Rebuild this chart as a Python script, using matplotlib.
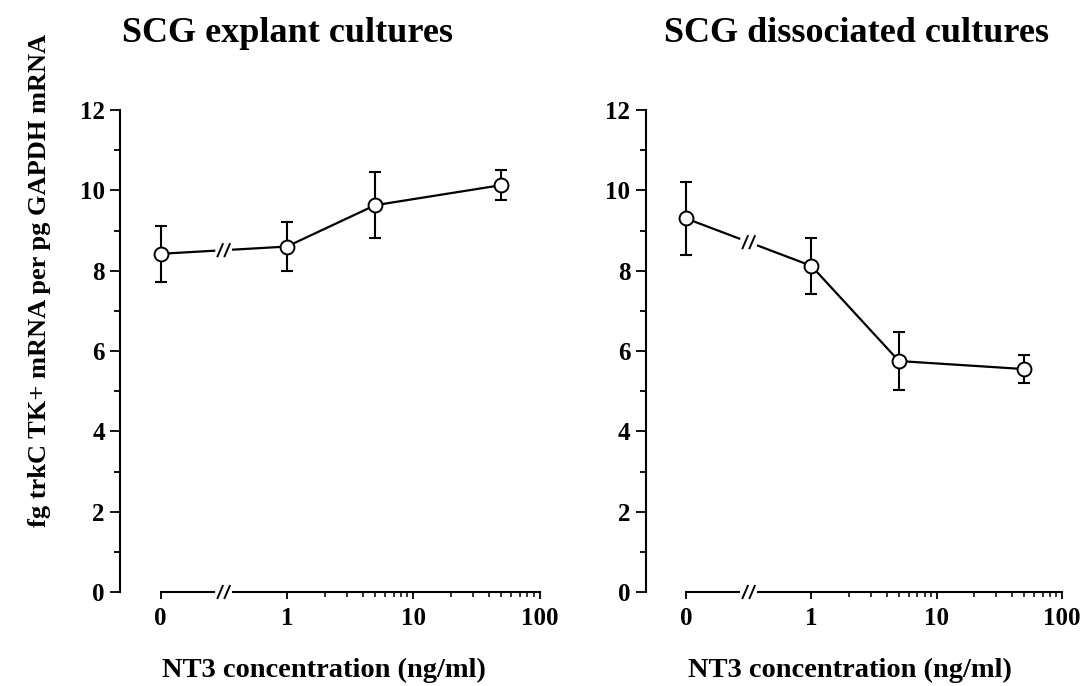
import numpy as np
import matplotlib
matplotlib.use('Agg')
import matplotlib.pyplot as plt
from matplotlib.ticker import FixedLocator, NullFormatter

plt.rcParams['font.family'] = 'Liberation Serif'
plt.rcParams['font.weight'] = 'bold'

# NT3 concentration (ng/ml); 0 is drawn one decade below 1 on the log axis
conc = [0, 1, 5, 50]
explant_mean = [8.42, 8.60, 9.63, 10.13]
explant_err = [0.70, 0.60, 0.82, 0.38]
dissoc_mean = [9.30, 8.12, 5.75, 5.55]
dissoc_err = [0.90, 0.70, 0.72, 0.34]
titles = ['SCG explant cultures', 'SCG dissociated cultures']
xtick_vals = [0.1, 1, 10, 100]
xtick_labels = ['0', '1', '10', '100']

W, H = 1088, 686
fig = plt.figure(figsize=(W / 100, H / 100), dpi=100)

ZERO_POS = 0.1
BRK = -0.5      # log10 position of the break
GAP = 0.075     # half gap in decades


def xpos(c):
    return [ZERO_POS if v == 0 else v for v in c]


def slashes(ax, xc, yc):
    # two little slanted strokes at (xc, yc), sized in pixels
    cx, cy = ax.transData.transform((xc, yc))
    inv = ax.transData.inverted()
    for dx in (-3.5, 3.5):
        p1 = inv.transform((cx + dx - 3, cy - 7))
        p2 = inv.transform((cx + dx + 3, cy + 7))
        ax.plot([p1[0], p2[0]], [p1[1], p2[1]], color='k', lw=1.4,
                clip_on=False, solid_capstyle='butt')


def panel(rect, means, errs, title, tcx, lcx):
    ax = fig.add_axes(rect)
    ax.set_xscale('log')
    ax.set_xlim(0.1, 100)
    ax.set_ylim(0, 12)
    for s in ['top', 'right', 'bottom']:
        ax.spines[s].set_visible(False)
    ax.spines['left'].set_position(('outward', 29))
    ax.spines['left'].set_linewidth(1.5)

    ax.yaxis.set_major_locator(FixedLocator(np.arange(0, 13, 2)))
    ax.yaxis.set_minor_locator(FixedLocator(np.arange(1, 12, 2)))
    ax.tick_params(axis='y', which='major', length=7, width=1.3, labelsize=18, pad=4)
    ax.tick_params(axis='y', which='minor', length=4, width=1.3)

    ax.xaxis.set_major_locator(FixedLocator(xtick_vals))
    ax.set_xticklabels(xtick_labels)
    minors = [m * d for d in (1, 10) for m in range(2, 10)]
    ax.xaxis.set_minor_locator(FixedLocator(minors))
    ax.xaxis.set_minor_formatter(NullFormatter())
    ax.tick_params(axis='x', which='major', length=5, width=1.3, labelsize=18, pad=6)
    ax.tick_params(axis='x', which='minor', length=3.5, width=1.1)

    # x axis line with break
    lo, hi = 10 ** (BRK - GAP), 10 ** (BRK + GAP)
    ax.plot([ZERO_POS, lo], [0, 0], color='k', lw=1.5, clip_on=False)
    ax.plot([hi, 100], [0, 0], color='k', lw=1.5, clip_on=False)
    slashes(ax, 10 ** BRK, 0)

    # data line with break between 0 and 1
    xs = xpos(conc)
    lx = np.log10(xs)

    def yat(l):
        return means[0] + (means[1] - means[0]) * (l - lx[0]) / (lx[1] - lx[0])
    ax.plot([xs[0], lo], [means[0], yat(BRK - GAP)], color='k', lw=1.6, zorder=2,
            clip_on=False)
    ax.plot([hi] + xs[1:], [yat(BRK + GAP)] + means[1:], color='k', lw=1.6, zorder=2)
    slashes(ax, 10 ** BRK, yat(BRK))

    eb = ax.errorbar(xs, means, yerr=errs, fmt='none', ecolor='k', elinewidth=1.5,
                     capsize=4.5, capthick=1.5, zorder=3)
    for art in eb.get_children():
        art.set_clip_on(False)
    ax.plot(xs, means, 'o', ms=10, mfc='white', mec='k', mew=1.4, zorder=4,
            clip_on=False)

    fig.text(lcx / W, 1 - 670 / H, 'NT3 concentration (ng/ml)', fontsize=20.5,
             fontweight='bold', ha='center', va='center')
    fig.text(tcx / W, 1 - 33 / H, title, fontsize=26, fontweight='bold',
             ha='center', va='center')
    return ax


y0 = (H - 592) / H
hgt = (592 - 110) / H
panel([160.5 / W, y0, 379 / W, hgt], explant_mean, explant_err, titles[0], 288, 324)
panel([686 / W, y0, 376 / W, hgt], dissoc_mean, dissoc_err, titles[1], 857, 850)

fig.text(40 / W, 1 - 280 / H, 'fg trkC TK+ mRNA per pg GAPDH mRNA', rotation=90,
         fontsize=19, fontweight='bold', ha='center', va='center')

fig.savefig('out.png', dpi=100)
